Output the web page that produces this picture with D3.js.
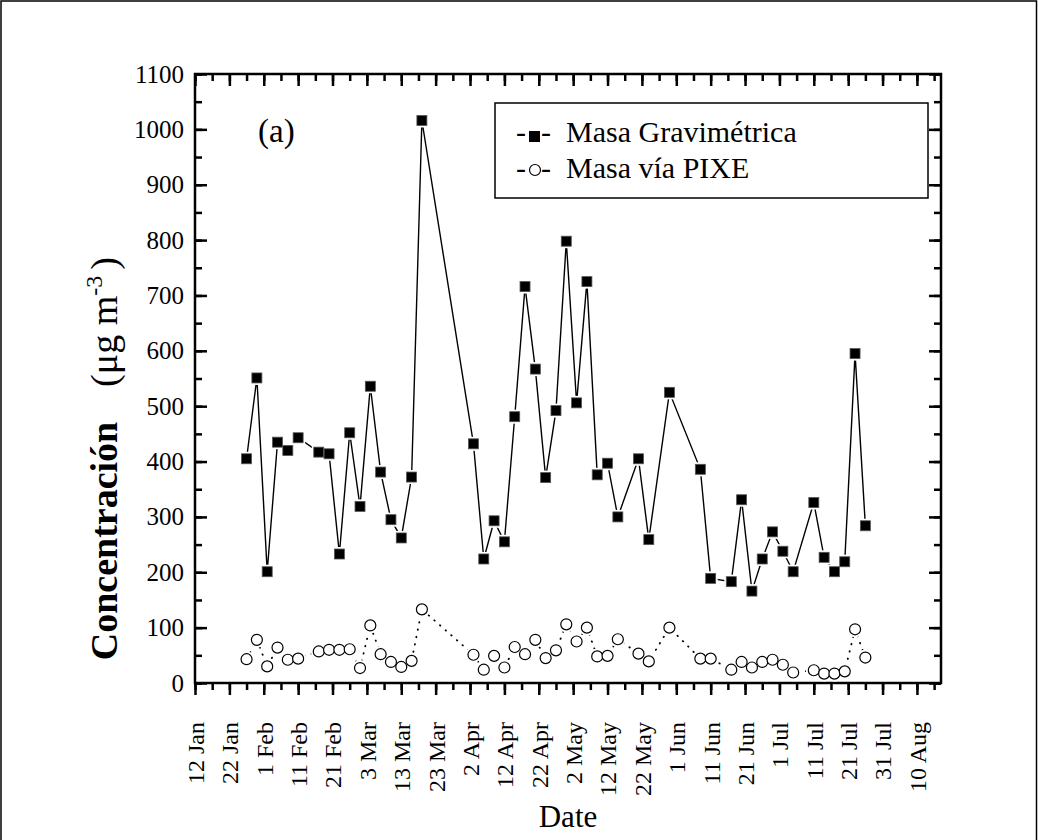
<!DOCTYPE html>
<html>
<head>
<meta charset="utf-8">
<script src="https://cdn.jsdelivr.net/npm/d3@7"></script>
<style>
  body { margin: 0; background: #fff; }
  svg text { font-family: "Liberation Serif", "Times New Roman", serif; fill: #000; }
</style>
</head>
<body>
<script>
/* ----------------------
Data:
sampling dates and the two mass series
* ----------------------- */

var sampleDates = [
  "2005-01-27", "2005-01-30", "2005-02-02", "2005-02-05", "2005-02-08", "2005-02-11",
  "2005-02-17", "2005-02-20", "2005-02-23", "2005-02-26", "2005-03-01", "2005-03-04",
  "2005-03-07", "2005-03-10", "2005-03-13", "2005-03-16", "2005-03-19",
  "2005-04-03", "2005-04-06", "2005-04-09", "2005-04-12", "2005-04-15", "2005-04-18",
  "2005-04-21", "2005-04-24", "2005-04-27", "2005-04-30", "2005-05-03", "2005-05-06",
  "2005-05-09", "2005-05-12", "2005-05-15", "2005-05-21", "2005-05-24", "2005-05-30",
  "2005-06-08", "2005-06-11", "2005-06-17", "2005-06-20", "2005-06-23", "2005-06-26",
  "2005-06-29", "2005-07-02", "2005-07-05", "2005-07-11", "2005-07-14", "2005-07-17",
  "2005-07-20", "2005-07-23", "2005-07-26"
];

// Masa Gravimétrica (µg m-3)
var gravimetrica = [
  405, 551, 201, 435, 420, 443,
  417, 414, 233, 452, 319, 536,
  381, 295, 262, 372, 1016,
  432, 224, 293, 255, 481, 716,
  567, 371, 492, 798, 506, 725,
  376, 397, 300, 405, 259, 525,
  386, 189, 183, 331, 166, 224,
  273, 238, 201, 326, 227, 201,
  219, 595, 284
];

// Masa vía PIXE (µg m-3)
var pixe = [
  43, 78, 30, 64, 42, 44,
  57, 60, 60, 61, 27, 104,
  52, 38, 29, 40, 133,
  51, 24, 49, 28, 65, 52,
  78, 45, 59, 106, 75, 100,
  48, 49, 79, 53, 39, 100,
  44, 44, 24, 38, 28, 38,
  42, 33, 19, 23, 17, 17,
  21, 97, 46
];

var xDomain = ["2005-01-12", "2005-08-17"];
var xTickDates = [
  "2005-01-12", "2005-01-22", "2005-02-01", "2005-02-11", "2005-02-21", "2005-03-03",
  "2005-03-13", "2005-03-23", "2005-04-02", "2005-04-12", "2005-04-22", "2005-05-02",
  "2005-05-12", "2005-05-22", "2005-06-01", "2005-06-11", "2005-06-21", "2005-07-01",
  "2005-07-11", "2005-07-21", "2005-07-31", "2005-08-10"
];
var yDomain = [0, 1100];
var yTicks = [0, 100, 200, 300, 400, 500, 600, 700, 800, 900, 1000, 1100];

var seriesNames = ["Masa Gravimétrica", "Masa vía PIXE"];

/* ----------------------
Layout
(note: "top" is taken by window.top, so the edges get a prefix)
* ----------------------- */
var W = 1038, H = 840;
var plotL = 195, plotT = 74, plotR = 941, plotB = 683;

var parseDate = d3.utcParse("%Y-%m-%d");
var fmt = d3.utcFormat("%-d %b");

var svg = d3.select("body").append("svg")
  .attr("width", W)
  .attr("height", H);

// outer picture frame
svg.append("rect")
  .attr("x", 1).attr("y", 1)
  .attr("width", W - 2.5).attr("height", H + 10)
  .attr("fill", "none")
  .attr("stroke", "#000")
  .attr("stroke-width", 1.5);

var x = d3.scaleUtc()
  .domain(xDomain.map(parseDate))
  .range([plotL, plotR]);

var y = d3.scaleLinear()
  .domain(yDomain)
  .range([plotB, plotT]);

var majorX = xTickDates.map(parseDate);
// minor ticks halfway between the labelled ones
var minorX = d3.utcDay.range(parseDate(xDomain[0]), parseDate(xDomain[1]), 5);
var minorY = d3.range(yDomain[0], yDomain[1] + 1, 50);

function styleAxis(g) {
  g.select(".domain").remove();
  g.selectAll(".tick line")
    .attr("stroke", "#000")
    .attr("stroke-width", 2.5);
}

/* ---- bottom axis (ticks point outwards) ---- */
svg.append("g")
  .attr("transform", "translate(0," + plotB + ")")
  .call(d3.axisBottom(x).tickValues(minorX).tickSize(7).tickFormat(""))
  .call(styleAxis);

var bottomAxis = svg.append("g")
  .attr("transform", "translate(0," + plotB + ")")
  .call(d3.axisBottom(x).tickValues(majorX).tickSize(12).tickFormat(fmt))
  .call(styleAxis);

bottomAxis.selectAll(".tick text")
  .attr("transform", "rotate(-90)")
  .attr("x", -39)
  .attr("y", 0)
  .attr("dy", "0.35em")
  .style("text-anchor", "end")
  .style("font-size", "24px");

/* ---- top axis (inwards, no labels) ---- */
svg.append("g")
  .attr("transform", "translate(0," + plotT + ")")
  .call(d3.axisTop(x).tickValues(minorX).tickSize(-7).tickFormat(""))
  .call(styleAxis);
svg.append("g")
  .attr("transform", "translate(0," + plotT + ")")
  .call(d3.axisTop(x).tickValues(majorX).tickSize(-12).tickFormat(""))
  .call(styleAxis);

/* ---- left axis (inwards) ---- */
svg.append("g")
  .attr("transform", "translate(" + plotL + ",0)")
  .call(d3.axisLeft(y).tickValues(minorY).tickSize(-7).tickFormat(""))
  .call(styleAxis);
var leftAxis = svg.append("g")
  .attr("transform", "translate(" + plotL + ",0)")
  .call(d3.axisLeft(y).tickValues(yTicks).tickSize(-12).tickPadding(11)
        .tickFormat(d3.format("d")))
  .call(styleAxis);
leftAxis.selectAll(".tick text")
  .style("font-size", "25px");

/* ---- right axis (inwards) ---- */
svg.append("g")
  .attr("transform", "translate(" + plotR + ",0)")
  .call(d3.axisRight(y).tickValues(minorY).tickSize(-7).tickFormat(""))
  .call(styleAxis);
svg.append("g")
  .attr("transform", "translate(" + plotR + ",0)")
  .call(d3.axisRight(y).tickValues(yTicks).tickSize(-12).tickFormat(""))
  .call(styleAxis);

// plot frame
svg.append("rect")
  .attr("x", plotL).attr("y", plotT)
  .attr("width", plotR - plotL).attr("height", plotB - plotT)
  .attr("fill", "none")
  .attr("stroke", "#000")
  .attr("stroke-width", 2.5);

/* ----------------------
Series
* ----------------------- */
var grav = sampleDates.map(function(d, i) { return [parseDate(d), gravimetrica[i]]; });
var pix = sampleDates.map(function(d, i) { return [parseDate(d), pixe[i]]; });

var line = d3.line()
  .x(function(d) { return x(d[0]); })
  .y(function(d) { return y(d[1]); });

svg.append("path")
  .attr("d", line(pix))
  .attr("fill", "none")
  .attr("stroke", "#000")
  .attr("stroke-width", 1.8)
  .attr("stroke-linecap", "round")
  .attr("stroke-dasharray", "0.5,7");

svg.append("path")
  .attr("d", line(grav))
  .attr("fill", "none")
  .attr("stroke", "#000")
  .attr("stroke-width", 1.4);

var sq = 10, rc = 5.5;

// white halos give the small gap between line and marker
svg.append("g").selectAll("circle")
  .data(pix).enter().append("circle")
  .attr("cx", function(d) { return x(d[0]); })
  .attr("cy", function(d) { return y(d[1]); })
  .attr("r", rc + 2.5)
  .attr("fill", "#fff");
svg.append("g").selectAll("rect")
  .data(grav).enter().append("rect")
  .attr("x", function(d) { return x(d[0]) - sq / 2 - 2; })
  .attr("y", function(d) { return y(d[1]) - sq / 2 - 2; })
  .attr("width", sq + 4).attr("height", sq + 4)
  .attr("fill", "#fff");

svg.append("g").selectAll("circle")
  .data(pix).enter().append("circle")
  .attr("cx", function(d) { return x(d[0]); })
  .attr("cy", function(d) { return y(d[1]); })
  .attr("r", rc)
  .attr("fill", "#fff")
  .attr("stroke", "#000")
  .attr("stroke-width", 1.2);

svg.append("g").selectAll("rect")
  .data(grav).enter().append("rect")
  .attr("x", function(d) { return x(d[0]) - sq / 2; })
  .attr("y", function(d) { return y(d[1]) - sq / 2; })
  .attr("width", sq).attr("height", sq)
  .attr("fill", "#000")
  .attr("stroke", "#555")
  .attr("stroke-width", 0.8);

/* ----------------------
Legend, panel letter, titles
* ----------------------- */
var legend = svg.append("g");
legend.append("rect")
  .attr("x", 495).attr("y", 103)
  .attr("width", 433).attr("height", 95)
  .attr("fill", "#fff")
  .attr("stroke", "#000")
  .attr("stroke-width", 1.5);

seriesNames.forEach(function(name, i) {
  var ly = 142 + i * 36;
  legend.append("text").attr("x", 516).attr("y", ly).style("font-size", "30px").text("-");
  legend.append("text").attr("x", 541).attr("y", ly).style("font-size", "30px").text("-");
  legend.append("text").attr("x", 566).attr("y", ly).style("font-size", "30px").text(name);
  if (i === 0) {
    legend.append("rect")
      .attr("x", 529).attr("y", ly - 11)
      .attr("width", 11).attr("height", 11)
      .attr("fill", "#000");
  } else {
    legend.append("circle")
      .attr("cx", 535).attr("cy", ly - 8)
      .attr("r", 5.5)
      .attr("fill", "#fff")
      .attr("stroke", "#000")
      .attr("stroke-width", 1.2);
  }
});

svg.append("text")
  .attr("x", 258).attr("y", 142)
  .style("font-size", "33px")
  .text("(a)");

svg.append("text")
  .attr("x", 568).attr("y", 827)
  .attr("text-anchor", "middle")
  .style("font-size", "31px")
  .text("Date");

var yTitle = svg.append("g")
  .attr("transform", "translate(117,0) rotate(-90)");
yTitle.append("text")
  .attr("x", -541).attr("y", 0)
  .attr("text-anchor", "middle")
  .style("font-size", "38px")
  .style("font-weight", "bold")
  .text("Concentración");
var unit = yTitle.append("text")
  .attr("x", -322).attr("y", 0)
  .attr("text-anchor", "middle")
  .style("font-size", "38px");
unit.append("tspan").text("(μg m");
unit.append("tspan").attr("dy", -15).style("font-size", "24px").text("-3");
unit.append("tspan").attr("dy", 15).attr("dx", 6).text(")");
</script>
</body>
</html>
